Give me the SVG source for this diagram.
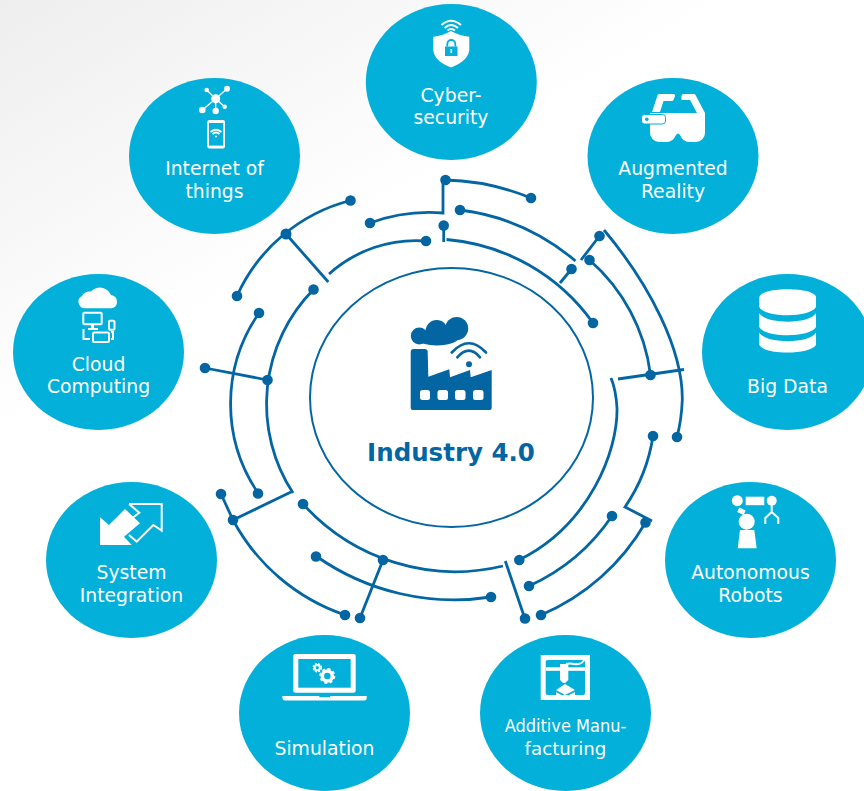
<svg xmlns="http://www.w3.org/2000/svg" width="864" height="791" viewBox="0 0 864 791">
<style>
.n{fill:#02b0d9}
.t{font-family:"DejaVu Sans",Verdana,sans-serif;font-size:18.8px;fill:#fff;text-anchor:middle}
.c{font-family:"DejaVu Sans Condensed","DejaVu Sans",sans-serif;font-size:18px;fill:#fff;text-anchor:middle}
.w{fill:#fff}
.b{fill:#02b0d9}
.ws{fill:none;stroke:#fff;stroke-width:2}
.l{fill:none;stroke:#0366a3;stroke-width:2.8}
.d{fill:#0366a3}
</style>
<defs>
<linearGradient id="bg" gradientUnits="userSpaceOnUse" x1="0" y1="0" x2="190" y2="320">
<stop offset="0" stop-color="#eeeeee"/><stop offset="1" stop-color="#fff"/>
</linearGradient>
</defs>
<rect width="864" height="791" fill="#fff"/>
<rect width="864" height="791" fill="url(#bg)"/>

<g id="connectors">
<path class="l" d="M350.500 200.500A171 171 0 0 0 237 296"/>
<path class="l" d="M286 234L328.300 282"/>
<path class="l" d="M370 223A171 171 0 0 1 443 213V180"/>
<path class="l" d="M445.500 180A240 240 0 0 1 531 198"/>
<path class="l" d="M426 241A130 130 0 0 0 329 274"/>
<path class="l" d="M313.500 289.500A163 163 0 0 0 293 493"/>
<path class="l" d="M259 313A159 159 0 0 0 258 493"/>
<path class="l" d="M205 368L267.500 380"/>
<path class="l" d="M221 494L233 520"/>
<path class="l" d="M233 520A200 200 0 0 0 345 615"/>
<path class="l" d="M233 520L291 492"/>
<path class="l" d="M303 504A205 205 0 0 0 503 566"/>
<path class="l" d="M383 560L360 618"/>
<path class="l" d="M316 556A240 240 0 0 0 491 597"/>
<path class="l" d="M443.700 226V242"/>
<path class="l" d="M446.500 239.500A200 200 0 0 1 593 323"/>
<path class="l" d="M460 210A220 220 0 0 1 575.500 261"/>
<path class="l" d="M571.500 269L560 283"/>
<path class="l" d="M599.500 236L581 260"/>
<path class="l" d="M589.500 260A182 182 0 0 1 650.500 375"/>
<path class="l" d="M604 230C650 285 683 350 682.300 400Q681.500 420 677 437"/>
<path class="l" d="M618 379L684 369.500"/>
<path class="l" d="M611 378Q616 390 617 408C618 450 590 525 519 560"/>
<path class="l" d="M653 436A170 170 0 0 1 625 507L652 521"/>
<path class="l" d="M612 516A200 200 0 0 1 529 586"/>
<path class="l" d="M645.500 522.500A220 220 0 0 1 541 615"/>
<path class="l" d="M505.300 561L525 619"/>
<g class="d">
<circle cx="350.500" cy="200.500" r="5.300"/><circle cx="286" cy="234" r="5.500"/><circle cx="237" cy="296" r="5.300"/>
<circle cx="370" cy="223" r="5.300"/><circle cx="445.500" cy="180" r="5.300"/><circle cx="531" cy="198" r="5.300"/>
<circle cx="426" cy="241" r="5.300"/><circle cx="313.500" cy="289.500" r="5.300"/><circle cx="267.500" cy="380" r="5.300"/>
<circle cx="259" cy="313" r="5.300"/><circle cx="258" cy="493.500" r="5.300"/><circle cx="205" cy="368" r="5.300"/>
<circle cx="221" cy="494" r="5.300"/><circle cx="233" cy="520" r="5.300"/><circle cx="345" cy="615" r="5.300"/>
<circle cx="303" cy="504" r="5.300"/><circle cx="383" cy="560" r="5.300"/><circle cx="360" cy="618" r="5.300"/>
<circle cx="316" cy="556.500" r="5.300"/><circle cx="491" cy="597" r="5.300"/><circle cx="443.700" cy="225.500" r="5.300"/>
<circle cx="593" cy="323" r="5.300"/><circle cx="460" cy="210" r="5.300"/><circle cx="571.500" cy="269" r="5.300"/>
<circle cx="599.500" cy="236" r="5.300"/><circle cx="589.500" cy="260" r="5.300"/><circle cx="650.500" cy="375" r="5.300"/>
<circle cx="677" cy="437" r="5.300"/><circle cx="519.300" cy="560" r="5.300"/><circle cx="653" cy="436" r="5.300"/>
<circle cx="612" cy="516" r="5.300"/><circle cx="529" cy="586" r="5.300"/><circle cx="645.500" cy="522.500" r="5.300"/>
<circle cx="541" cy="615" r="5.300"/><circle cx="525" cy="618.500" r="5.300"/>
</g>
</g>

<g id="center">
<ellipse cx="451.500" cy="397.500" rx="141.500" ry="129.500" fill="#fff" stroke="#0366a3" stroke-width="2"/>
<g class="d">
<circle cx="419.300" cy="336" r="8.500"/><circle cx="436.700" cy="331" r="11"/><circle cx="456.700" cy="328.500" r="11.500"/>
<ellipse cx="437" cy="337" rx="22" ry="8.500"/>
<path d="M410.700 352a3 3 0 0 1 3-3h11a3 3 0 0 1 3 3L428.300 376.700L449.300 369.300L450 377.300L470 370L470.700 377.300L491.700 370V408a2 2 0 0 1-2 2H412.700a2 2 0 0 1-2-2Z"/>
<circle cx="469" cy="364.300" r="3"/>
</g>
<path d="M451.700 352.500Q469 334 486 352.500M457.300 357.300Q469 344 480 357.300" fill="none" stroke="#0366a3" stroke-width="2.600" stroke-linecap="round"/>
<g fill="#fff">
<rect x="420" y="390" width="10" height="10" rx="2.500"/><rect x="437.500" y="390" width="10.500" height="10" rx="2.500"/><rect x="455" y="390" width="10.500" height="10" rx="2.500"/><rect x="473" y="390" width="10.500" height="10" rx="2.500"/>
</g>
<text x="451" y="460.500" font-family="'DejaVu Sans',sans-serif" font-weight="700" font-size="24.500" fill="#0366a3" text-anchor="middle">Industry 4.0</text>
</g>

<g id="cybersecurity">
<ellipse class="n" cx="451.300" cy="82" rx="85.500" ry="78"/>
<path class="w" d="M451 31Q442 36 433.300 36.700V50Q434 61 451 67.500Q468 61 469.300 50V36.700Q460 36 451 31Z"/>
<path class="b" d="M445 46.500h12.500v9.500H445Z"/>
<path d="M447.300 46.500V44a4 4 0 0 1 8 0v2.500" fill="none" stroke="#02b0d9" stroke-width="1.800"/>
<rect class="w" x="450.500" y="49" width="1.600" height="4"/>
<path d="M441.500 25Q451 16.500 461 25M444.500 28Q451 22 458 28" class="ws" stroke-width="1.600"/>
<path d="M447.500 30.500Q451 27.500 455 30.500" class="ws"/>
<text class="t" x="451" y="102">Cyber-</text>
<text class="t" x="451" y="124">security</text>
</g>

<g id="augmented-reality">
<ellipse class="n" cx="673" cy="156" rx="85.500" ry="78"/>
<path class="w" d="M657.300 96a2 2 0 0 1 2-2H674a2 2 0 0 1 1 2l-1.500 4a2 2 0 0 1-1.500 1h-8.500L660 112h-8ZM681.500 96a2 2 0 0 1 2-2H694a2 2 0 0 1 1.500 1L705 113h-8L690 100h-8.500Z"/>
<path class="w" d="M650 113H705V133a9 9 0 0 1-9 9H689q-6 0-9-7q-2-3-4 0q-3 7-9 7H659a9 9 0 0 1-9-9Z"/>
<rect x="641.500" y="114.500" width="24" height="9.500" rx="3" class="w" stroke="#02b0d9" stroke-width="1"/>
<circle class="b" cx="646.800" cy="119.300" r="1.800"/>
<text class="t" x="673" y="175">Augmented</text>
<text class="t" x="673" y="198">Reality</text>
</g>

<g id="big-data">
<ellipse class="n" cx="787.500" cy="352" rx="85.500" ry="78"/>
<path class="w" d="M759.300 297.500C759.300 286.500 816 286.500 816 297.500V307C810 318 765 318 759.300 307Z"/>
<path class="w" d="M759.300 313C765 324.500 810 324.500 816 313V327C810 338 765 338 759.300 327Z"/>
<path class="w" d="M759.300 332.500C765 344 810 344 816 332.500V345C810 355 765 355 759.300 345Z"/>
<text class="t" x="787.500" y="393">Big Data</text>
</g>

<g id="autonomous-robots">
<ellipse class="n" cx="750.500" cy="560" rx="85.500" ry="78"/>
<circle class="w" cx="737.300" cy="500.700" r="5.500"/><circle class="w" cx="771.700" cy="500.700" r="5"/>
<rect class="w" x="745.700" y="496.700" width="18.600" height="8.500"/>
<rect class="w" x="738" y="508.500" width="7" height="5" transform="rotate(25 741 511)"/>
<circle class="w" cx="746.700" cy="521.700" r="8"/>
<path class="w" d="M740 530H754.300L756.700 548.300H737.700Z"/>
<path class="ws" d="M771.700 505V512L765.300 518V524M771.700 512L778.300 518V524"/>
<text class="t" x="750.500" y="579">Autonomous</text>
<text class="t" x="750.500" y="602">Robots</text>
</g>

<g id="additive-manufacturing">
<ellipse class="n" cx="565.500" cy="713" rx="85.500" ry="78"/>
<rect class="w" x="540.700" y="655" width="49.300" height="45"/>
<rect class="b" x="545.700" y="660" width="39.300" height="35" rx="2"/>
<rect class="w" x="545.700" y="667.300" width="39.300" height="3.500"/>
<path class="w" d="M560 664H568.300V680L565 683H563L560 680Z"/>
<path class="ws" stroke-width="1.200" d="M566 664Q570 663 574 664Q582 665 584 660"/>
<path class="w" d="M565 684L575 690L565 695L556 690ZM556 692L564 696.500V700H556ZM566 696.500L575 692V700H566Z"/>
<text class="c" x="565.500" y="732">Additive Manu-</text>
<text class="t" style="font-size:18.200px" x="565.500" y="755">facturing</text>
</g>

<g id="simulation">
<ellipse class="n" cx="324.500" cy="713" rx="85.500" ry="78"/>
<rect class="w" x="293.300" y="654" width="62.400" height="38.700" rx="2"/>
<rect class="b" x="298.300" y="659" width="52.400" height="28.700"/>
<path class="w" d="M282.300 696H319.300V697.300H330V696H366.700V698a2.500 2.500 0 0 1-2.500 2.500H285a2.500 2.500 0 0 1-2.500-2.500Z"/>
<circle cx="327.300" cy="676" r="5" fill="none" stroke="#fff" stroke-width="3.500"/>
<circle cx="327.300" cy="676" r="7" fill="none" stroke="#fff" stroke-width="2" stroke-dasharray="3 2.500"/>
<circle cx="317.300" cy="667.700" r="2.600" fill="none" stroke="#fff" stroke-width="2"/>
<circle cx="317.300" cy="667.700" r="4" fill="none" stroke="#fff" stroke-width="1.500" stroke-dasharray="2 1.200"/>
<text class="t" x="324.500" y="755">Simulation</text>
</g>

<g id="system-integration">
<ellipse class="n" cx="131.500" cy="560" rx="85.500" ry="78"/>
<path class="w" d="M100 545V517.300L109 525L125 509L140 523.300L124 536.700L131.700 545Z"/>
<path class="ws" d="M129 504H161.700V530.700L153.300 525L136.700 541.700L129 535M129 504L139.300 512.700L133.300 517.300"/>
<text class="t" x="131.500" y="579">System</text>
<text class="t" x="131.500" y="602">Integration</text>
</g>

<g id="cloud-computing">
<ellipse class="n" cx="98.500" cy="352" rx="85.500" ry="78"/>
<path class="w" d="M85 308.300A6.500 6.500 0 0 1 82 296A9 9 0 0 1 91 291.500A12 12 0 0 1 111 295A6.800 6.800 0 0 1 112 308.300Z"/>
<rect class="ws" x="83.300" y="312.700" width="18.400" height="11.500" rx="1"/>
<path class="w" d="M91 325h3v3h4v2H88v-2h3Z"/>
<rect class="ws" x="109" y="320.700" width="5.500" height="9" rx="1" stroke-width="1.500"/>
<rect class="ws" x="93" y="332.500" width="16" height="9.500" rx="1.500" stroke-width="1.500"/>
<path class="ws" stroke-width="1.500" d="M83.500 329V339H90M111 332H113V339H111"/>
<text class="t" x="98.500" y="371">Cloud</text>
<text class="t" x="98.500" y="393">Computing</text>
</g>

<g id="internet-of-things">
<ellipse class="n" cx="214.500" cy="156" rx="85.500" ry="78"/>
<path d="M215.700 98.700L227 88.700M215.700 98.700L206.700 90M215.700 98.700L202.300 110M215.700 98.700V111M215.700 98.700L224.700 106.700" stroke="#fff" stroke-width="1.300" fill="none"/>
<circle class="w" cx="215.700" cy="98.700" r="4.500"/><circle class="w" cx="227" cy="88.700" r="3"/><circle class="w" cx="206.700" cy="90" r="2.300"/><circle class="w" cx="202.300" cy="110" r="3.300"/><circle class="w" cx="215.700" cy="111" r="3.200"/><circle class="w" cx="224.700" cy="106.700" r="2.200"/>
<rect class="w" x="207.300" y="120" width="17.700" height="28.400" rx="2"/>
<rect class="b" x="209" y="123" width="14.300" height="22.600"/>
<path d="M210.500 132Q216 127.500 221.500 132M212.500 134Q216 131 219.500 134" class="ws" stroke-width="1"/>
<circle class="w" cx="216" cy="136.500" r="1"/>
<text class="t" x="214.500" y="175">Internet of</text>
<text class="t" x="214.500" y="198">things</text>
</g>
</svg>
